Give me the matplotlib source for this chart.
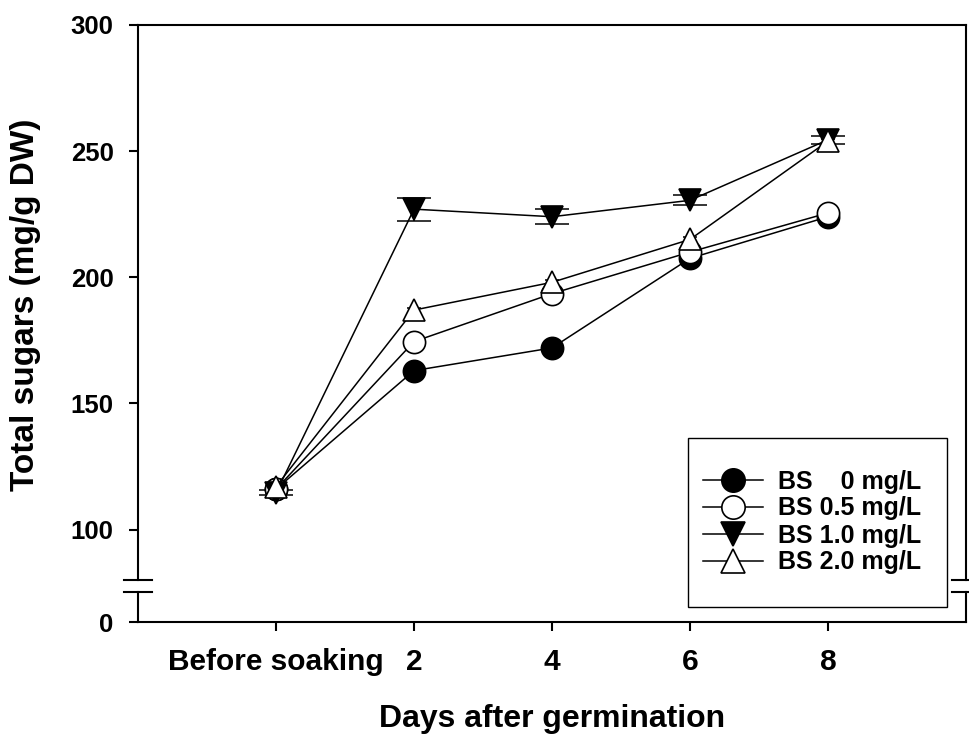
import matplotlib
matplotlib.use("Agg")
import matplotlib.pyplot as plt
from matplotlib.lines import Line2D
from matplotlib.patches import Rectangle

plt.rcParams['font.family'] = ['Liberation Sans', 'DejaVu Sans']
plt.rcParams['font.weight'] = 'bold'

# ---- data ----
x_labels = ['Before soaking', '2', '4', '6', '8']
bs_0 = [116, 163, 172, 207.5, 224]
bs_05 = [116, 174.5, 193.5, 210, 225.5]
bs_10 = [114.5, 227, 224, 230.5, 254.5]
bs_20 = [117, 187, 198, 215, 254]
err_0 = [1, 1.5, 1.5, 1.5, 1]
err_05 = [1, 1.5, 1.5, 1.5, 1.5]
err_10 = [1, 4.5, 3, 2, 1.5]
err_20 = [1, 0.8, 0.8, 0.8, 0.8]
legend_labels = ['BS    0 mg/L', 'BS 0.5 mg/L', 'BS 1.0 mg/L', 'BS 2.0 mg/L']
upper_ticks = [100, 150, 200, 250, 300]

W, H = 969, 740
fig = plt.figure(figsize=(W / 100, H / 100), dpi=100)

def fx(px):
    return px / W

def fy(py):
    return (H - py) / H

left, right = 138, 966
top_up, bot_up = 25, 580
top_lo, bot_lo = 592, 622

ax = fig.add_axes([fx(left), fy(bot_up), fx(right - left), (bot_up - top_up) / H])
axl = fig.add_axes([fx(left), fy(bot_lo), fx(right - left), (bot_lo - top_lo) / H])

xs = list(range(len(x_labels)))
series = [
    (bs_0, err_0, 'o', 'black', 7),
    (bs_05, err_05, 'o', 'white', 7),
    (bs_10, err_10, 'v', 'black', 12),
    (bs_20, err_20, '^', 'white', 5),
]
lw_sp = 1.5
for i, (vals, errs, mk, fc, cs) in enumerate(series):
    ax.errorbar(xs, vals, yerr=errs, fmt='none', ecolor='black', capsize=cs,
                elinewidth=1.1, capthick=1.1, clip_on=False, zorder=2 + i * 0.1)
for i, (vals, errs, mk, fc, cs) in enumerate(series):
    ax.plot(xs, vals, color='black', lw=1.1, marker=mk, ms=16, mfc=fc,
            mec='black', mew=1.2, clip_on=False, zorder=3 + i * 0.1)

ax.set_xlim(-1, 5)
ax.set_ylim(80, 300)
axl.set_xlim(-1, 5)
axl.set_ylim(0, 12)

ax.set_yticks(upper_ticks)
ax.set_xticks([])
ax.spines['bottom'].set_visible(False)
axl.spines['top'].set_visible(False)
for a in (ax, axl):
    for s in a.spines.values():
        s.set_linewidth(lw_sp)
    a.tick_params(axis='y', direction='out', length=6.5, width=lw_sp,
                  labelsize=18.5, pad=11, right=False)
axl.set_yticks([0])
axl.set_xticks(xs)
axl.set_xticklabels(x_labels)
axl.tick_params(axis='x', direction='out', length=6.5, width=lw_sp,
                labelsize=21.5, pad=12.5)

# break marks
for py in (580, 592):
    fig.add_artist(Line2D([fx(124), fx(152)], [fy(py), fy(py)], color='black', lw=lw_sp))
    fig.add_artist(Line2D([fx(952), fx(985)], [fy(py), fy(py)], color='black', lw=lw_sp))

# axis labels
fig.text(fx(552), fy(727), 'Days after germination', ha='center', va='baseline',
         fontsize=23, fontweight='bold')
fig.text(fx(26), fy(305), 'Total sugars (mg/g DW)', ha='center', va='center',
         rotation=90, fontsize=24, fontweight='bold')

# legend frame + legend
rect = Rectangle((fx(688), fy(607)), fx(947 - 688), (607 - 438) / H,
                 transform=fig.transFigure, facecolor='white', edgecolor='black',
                 lw=1.0, zorder=4)
fig.add_artist(rect)
handles = [Line2D([], [], color='black', lw=1.1, marker=mk, ms=16, mfc=fc,
                  mec='black', mew=1.2) for _, _, mk, fc, _ in series]
leg = fig.legend(handles, legend_labels, loc='center',
                 bbox_to_anchor=(fx(812), fy(522)), frameon=False, fontsize=18,
                 handlelength=2.4, handletextpad=0.6, labelspacing=0.12,
                 borderpad=0, markerscale=1.05)
leg.set_zorder(6)

fig.savefig('out.png', dpi=100)
